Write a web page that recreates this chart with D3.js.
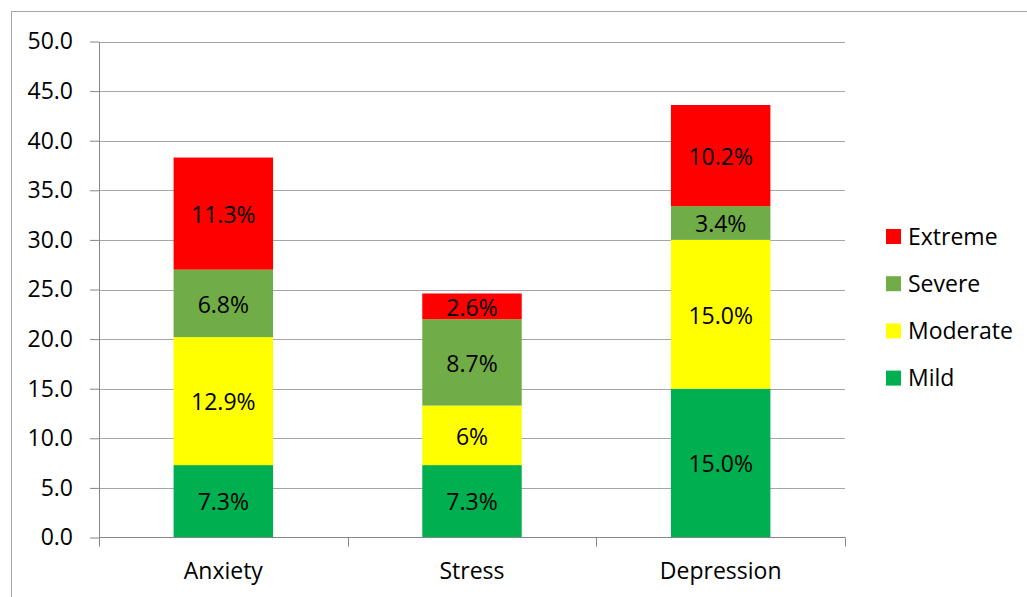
<!DOCTYPE html>
<html><head><meta charset="utf-8">
<script src="https://cdn.jsdelivr.net/npm/d3@7"></script>
<style>body{margin:0;background:#fff}svg{display:block}</style>
</head><body>
<svg id="c" width="1027" height="597"></svg>
<script>
const categories = ["Anxiety", "Stress", "Depression"];
const seriesNames = ["Mild", "Moderate", "Severe", "Extreme"];
const mild = [7.3, 7.3, 15.0];
const moderate = [12.9, 6.0, 15.0];
const severe = [6.8, 8.7, 3.4];
const extreme = [11.3, 2.6, 10.2];
const labelsMild = ["7.3%", "7.3%", "15.0%"];
const labelsModerate = ["12.9%", "6%", "15.0%"];
const labelsSevere = ["6.8%", "8.7%", "3.4%"];
const labelsExtreme = ["11.3%", "2.6%", "10.2%"];
const yTicks = [0, 5, 10, 15, 20, 25, 30, 35, 40, 45, 50];
const colors = ["#00B050", "#FFFF00", "#70AD47", "#FF0000"];

const seriesVals = [mild, moderate, severe, extreme];
const seriesLabels = [labelsMild, labelsModerate, labelsSevere, labelsExtreme];
const FONT = "'Open Sans', 'Noto Sans', sans-serif";
const FS = 23;

const svg = d3.select("#c");
svg.append("rect").attr("x", 11.5).attr("y", 11.5).attr("width", 1100).attr("height", 700)
  .attr("fill", "none").attr("stroke", "#a6a6a6").attr("stroke-width", 1);

const x = d3.scaleBand().domain(categories).range([99, 845]).paddingInner(0.6).paddingOuter(0.3);
const xOuter = d3.scaleBand().domain(categories).range([99, 845]);
const y = d3.scaleLinear().domain([0, 50]).range([537.5, 41.5]);

// gridlines
svg.append("g").selectAll("line").data(yTicks.filter(d => d > 0)).join("line")
  .attr("x1", 99).attr("x2", 845).attr("y1", d => Math.round(y(d)) + 0.5).attr("y2", d => Math.round(y(d)) + 0.5)
  .attr("stroke", "#a6a6a6").attr("stroke-width", 1);

// stacked data
const table = categories.map((c, i) => {
  const o = { cat: c };
  seriesNames.forEach((s, j) => o[s] = seriesVals[j][i]);
  return o;
});
const stack = d3.stack().keys(seriesNames)(table);

const gBars = svg.append("g");
const gLabels = svg.append("g");
stack.forEach((layer, j) => {
  const g = gBars.append("g").attr("fill", colors[j]);
  g.selectAll("rect").data(layer).join("rect")
    .attr("x", d => x(d.data.cat))
    .attr("width", x.bandwidth())
    .attr("y", d => y(d[1]))
    .attr("height", d => y(d[0]) - y(d[1]));
  gLabels.append("g").selectAll("text").data(layer).join("text")
    .attr("x", d => x(d.data.cat) + x.bandwidth() / 2)
    .attr("y", d => (y(d[0]) + y(d[1])) / 2)
    .attr("dy", "0.4em")
    .attr("text-anchor", "middle")
    .attr("font-family", FONT).attr("font-size", FS).attr("fill", "#000")
    .text((d, i) => seriesLabels[j][i]);
});

// y axis
const yAxis = d3.axisLeft(y).tickValues(yTicks).tickFormat(d3.format(".1f")).tickSize(9).tickSizeOuter(0);
const gy = svg.append("g").attr("transform", "translate(99,0)").call(yAxis);
gy.select(".domain").attr("stroke", "#868686");
gy.selectAll(".tick line").attr("stroke", "#868686");
gy.selectAll(".tick text").attr("font-family", FONT).attr("font-size", FS).attr("fill", "#000").attr("x", -26);

// x axis
const gx = svg.append("g").attr("transform", "translate(0,537.5)");
gx.append("line").attr("x1", 99).attr("x2", 845).attr("stroke", "#868686");
const tickXs = [0, 1, 2, 3].map(i => 99 + i * xOuter.step());
gx.selectAll("line.t").data(tickXs).join("line").attr("class", "t")
  .attr("x1", d => Math.round(d) + 0.5).attr("x2", d => Math.round(d) + 0.5).attr("y1", 0).attr("y2", 9)
  .attr("stroke", "#868686");
gx.selectAll("text").data(categories).join("text")
  .attr("x", d => xOuter(d) + xOuter.bandwidth() / 2).attr("y", 41.5)
  .attr("text-anchor", "middle").attr("font-family", FONT).attr("font-size", FS).attr("fill", "#000")
  .text(d => d);

// legend
const legendOrder = [3, 2, 1, 0];
const lg = svg.append("g");
legendOrder.forEach((j, k) => {
  const yy = 229 + k * 47.2;
  lg.append("rect").attr("x", 886).attr("y", yy).attr("width", 15).attr("height", 15).attr("fill", colors[j]);
  lg.append("text").attr("x", 908).attr("y", yy + 7.5).attr("dy", "0.36em")
    .attr("font-family", FONT).attr("font-size", FS).attr("fill", "#000").text(seriesNames[j]);
});
</script>
</body></html>
